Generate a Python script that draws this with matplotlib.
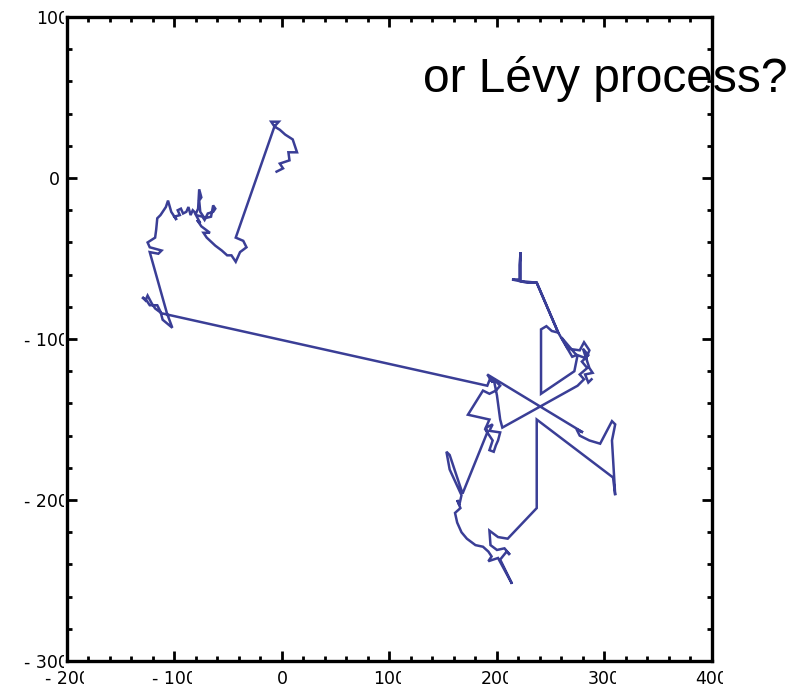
import matplotlib
matplotlib.use('Agg')
import matplotlib.pyplot as plt
from matplotlib.ticker import MultipleLocator
from matplotlib.transforms import Bbox, ScaledTranslation

# Walk path (data units), left cluster first
path_x = [-5, 1, -2, 7, 6, 14, 12, 10, 3, -2, -7, -10, -3, -7,
          -43, -36, -33, -39, -43, -47, -51, -56, -62, -70, -73, -67, -75, -79,
          -76, -80, -74, -72, -69, -64, -62, -64, -66, -72, -76, -77, -75, -77,
          -78, -80, -83, -85, -87, -89, -92, -94, -97, -95, -100, -98, -103, -106,
          -108, -110, -113, -116, -117, -118, -125, -123, -112, -115, -123,
          -107, -102, -111, -113, -116, -123, -126, -130, -127, -125, -121, -118, -112,
          191, 194, 196, 191,
          280, 274, 277, 286, 296, 307, 310, 307, 310, 308,
          237, 237, 210, 201, 193, 194, 200, 207, 212, 209, 203, 214, 201, 192, 195, 192, 187,
          180, 172, 167, 163, 161, 166, 163, 165, 167, 156, 153, 156, 168,
          191, 190, 196, 193, 203, 201, 199, 197, 193, 196, 189, 193, 173, 187, 193, 199, 203,
          197, 200, 203, 205,
          275, 281, 277, 284, 279, 285, 280, 283, 275, 272,
          241, 241, 246, 251, 257, 237, 228, 214, 221, 221, 222, 222, 222, 237, 257,
          270, 274, 260, 266, 277, 281, 286, 283, 286, 289, 282, 285, 288]
path_y = [4, 6, 9, 11, 16, 16, 20, 24, 27, 30, 32, 35, 35, 32,
          -37, -39, -43, -46, -52, -48, -48, -45, -42, -37, -34, -34, -30, -26,
          -28, -23, -24, -26, -22, -21, -19, -17, -24, -25, -21, -14, -12, -7,
          -19, -22, -20, -23, -18, -21, -22, -19, -20, -23, -24, -26, -21, -14,
          -18, -20, -23, -25, -32, -37, -40, -43, -45, -47, -46,
          -84, -93, -88, -83, -79, -79, -76, -74, -76, -73, -78, -81, -84,
          -129, -124, -127, -122,
          -158, -156, -160, -163, -165, -151, -153, -163, -197, -186,
          -150, -205, -224, -223, -219, -228, -231, -230, -234, -232, -237, -252, -236, -238, -235, -232, -229,
          -228, -224, -220, -214, -208, -205, -200, -203, -197, -181, -170, -172, -196,
          -158, -155, -153, -157, -158, -163, -166, -170, -169, -163, -156, -150, -147, -132, -134, -132, -129,
          -125, -135, -150, -155,
          -129, -125, -122, -118, -114, -110, -106, -112, -110, -120,
          -134, -94, -92, -95, -96, -65, -65, -63, -63, -54, -46, -56, -64, -65, -96,
          -111, -110, -99, -106, -107, -102, -107, -112, -118, -121, -122, -127, -125]

xticks = [-200, -100, 0, 100, 200, 300, 400]
xlabels = ['- 200', '- 100', '0', '100', '200', '300', '400']
yticks = [-300, -200, -100, 0, 100]
ylabels = ['- 300', '- 200', '- 100', '0', '100']
caption = 'or Lévy process?'

fig = plt.figure(figsize=(8.05, 6.88), dpi=100)
fig.patch.set_facecolor('white')

# caption sits under the axes frame (the spine runs over it)
fig.text(0.5255, 0.866, caption, fontsize=34.5, family='Liberation Sans',
         va='baseline', ha='left', zorder=-1)

ax = fig.add_axes([0.0832, 0.0392, 0.8012, 0.936])
ax.patch.set_visible(False)
ax.plot(path_x, path_y, color='#3a3e96', lw=1.8, solid_joinstyle='miter')

ax.set_xlim(-200, 400)
ax.set_ylim(-300, 100)
ax.set_xticks(xticks)
ax.set_xticklabels(xlabels)
ax.set_yticks(yticks)
ax.set_yticklabels(ylabels)
ax.xaxis.set_minor_locator(MultipleLocator(20))
ax.yaxis.set_minor_locator(MultipleLocator(20))
ax.tick_params(which='both', direction='in', top=True, right=True, width=2)
ax.tick_params(which='major', length=7, labelsize=12.5, pad=5)
ax.tick_params(axis='x', which='major', pad=6.5)
ax.tick_params(which='minor', length=3.5)
for s in ax.spines.values():
    s.set_linewidth(2.4)

# multi-digit y labels sit further right, running into the frame
for lab in ax.get_yticklabels():
    if len(lab.get_text()) > 1:
        lab.set_transform(lab.get_transform() + ScaledTranslation(0.09, 0, fig.dpi_scale_trans))

# the labels in the original have their last digit cut in half
fig.canvas.draw()
r = fig.canvas.get_renderer()
for lab in ax.get_xticklabels() + ax.get_yticklabels():
    t = lab.get_text()
    if len(t) < 2:
        continue
    bb = lab.get_window_extent(r)
    dw = 0.636 * lab.get_fontsize() * fig.dpi / 72.0
    cut = bb.x1 - 0.45 * dw
    lab.set_clip_box(Bbox.from_extents(bb.x0 - 3, bb.y0 - 3, cut, bb.y1 + 3))
    lab.set_clip_on(True)

fig.savefig('out.png', dpi=100)
